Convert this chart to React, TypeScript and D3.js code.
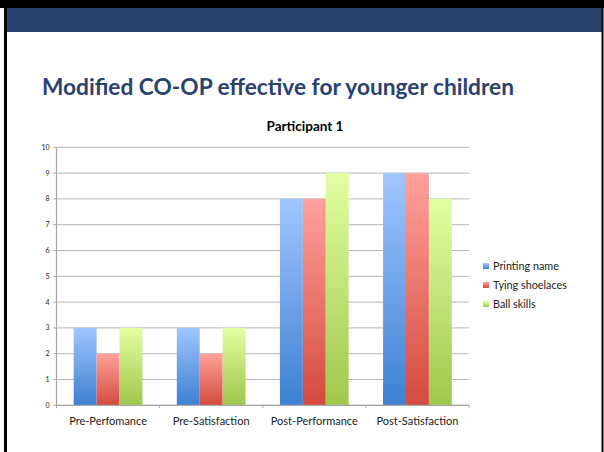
import React, { useEffect } from 'react';
import * as d3 from 'd3';

const categories = ['Pre-Perfomance', 'Pre-Satisfaction', 'Post-Performance', 'Post-Satisfaction'];
const seriesNames = ['Printing name', 'Tying shoelaces', 'Ball skills'];
const printingName = [3, 3, 8, 9];
const tyingShoelaces = [2, 2, 8, 9];
const ballSkills = [3, 3, 9, 8];
const yTicks = [0, 1, 2, 3, 4, 5, 6, 7, 8, 9, 10];

// top/bottom gradient stops per series
const gradients = [
  ['#a0c6ff', '#3d80d2'],
  ['#ffa19c', '#d44a3e'],
  ['#e2ffa2', '#9fc74c'],
];

const W = 604;
const H = 452;
const plot = { left: 56.5, right: 469, top: 147.3, bottom: 405.3 };
const font = 'Lato, "Open Sans", sans-serif';

export default function App() {
  useEffect(() => {
    document.body.style.margin = '0';
  }, []);

  const series = [printingName, tyingShoelaces, ballSkills];

  const x0 = d3.scaleBand<string>().domain(categories).range([plot.left, plot.right]).paddingInner(0).paddingOuter(0);
  const band = x0.bandwidth();
  const barW = band / (3 + 1.5);
  const x1 = d3.scaleBand<number>().domain([0, 1, 2]).range([0, barW * 3]);
  const y = d3.scaleLinear().domain([0, 10]).range([plot.bottom, plot.top]);

  return (
    <svg width={W} height={H} style={{ display: 'block', background: '#fff' }}>
      <defs>
        {gradients.map((g, i) => (
          <linearGradient key={i} id={`g${i}`} x1="0" y1="0" x2="0" y2="1">
            <stop offset="0%" stopColor={g[0]} />
            <stop offset="100%" stopColor={g[1]} />
          </linearGradient>
        ))}
      </defs>

      {/* slide frame */}
      <rect x={0} y={0} width={W} height={8} fill="#000" />
      <rect x={6} y={8} width={596} height={24} fill="#2b426f" />
      <rect x={4} y={8} width={3} height={H - 8} fill="#000" />
      <rect x={601.5} y={8} width={2} height={H - 8} fill="#000" />

      <text x={42} y={95} fontFamily={font} fontWeight={700} fontSize={23} fill="#2b426f"
        textLength={472} lengthAdjust="spacingAndGlyphs">
        Modified CO-OP effective for younger children
      </text>

      <text x={305} y={130.5} fontFamily={font} fontWeight={700} fontSize={13.5} textAnchor="middle" fill="#000">
        Participant 1
      </text>

      {/* gridlines */}
      {yTicks.map((t) => (
        <line key={t} x1={plot.left} x2={plot.right} y1={y(t)} y2={y(t)} stroke="#b5b5b5" strokeWidth={1} />
      ))}
      {yTicks.map((t) => (
        <g key={'yt' + t}>
          <line x1={plot.left - 3} x2={plot.left} y1={y(t)} y2={y(t)} stroke="#a6a6a6" />
          <text x={49.5} y={y(t) + 2.5} fontFamily={font} fontSize={7} textAnchor="end" fill="#222">
            {t}
          </text>
        </g>
      ))}

      {/* bars */}
      {categories.map((c, ci) => (
        <g key={c} transform={`translate(${x0(c)! + (band - barW * 3) / 2},0)`}>
          {series.map((s, si) => (
            <rect key={si} x={x1(si)} y={y(s[ci])} width={x1.bandwidth()} height={y(0) - y(s[ci])} fill={`url(#g${si})`} />
          ))}
        </g>
      ))}

      {/* axes */}
      <line x1={plot.left} x2={plot.left} y1={plot.top} y2={plot.bottom} stroke="#a6a6a6" strokeWidth={1.2} />
      <line x1={plot.left} x2={plot.right} y1={plot.bottom} y2={plot.bottom} stroke="#a6a6a6" strokeWidth={1.2} />
      {categories.map((c) => (
        <line key={'xt' + c} x1={x0(c)! + band} x2={x0(c)! + band} y1={plot.bottom} y2={plot.bottom + 3} stroke="#a6a6a6" />
      ))}
      <line x1={plot.left} x2={plot.left} y1={plot.bottom} y2={plot.bottom + 3} stroke="#a6a6a6" />
      {categories.map((c) => (
        <text key={'xl' + c} x={x0(c)! + band / 2} y={425} fontFamily={font} fontSize={11} textAnchor="middle" fill="#222">
          {c}
        </text>
      ))}

      {/* legend */}
      {seriesNames.map((n, i) => (
        <g key={n} transform={`translate(483,${266 + i * 19})`}>
          <rect x={0} y={-3} width={6} height={6} fill={`url(#g${i})`} />
          <text x={10} y={3.5} fontFamily={font} fontSize={10.8} fill="#222">
            {n}
          </text>
        </g>
      ))}
    </svg>
  );
}
